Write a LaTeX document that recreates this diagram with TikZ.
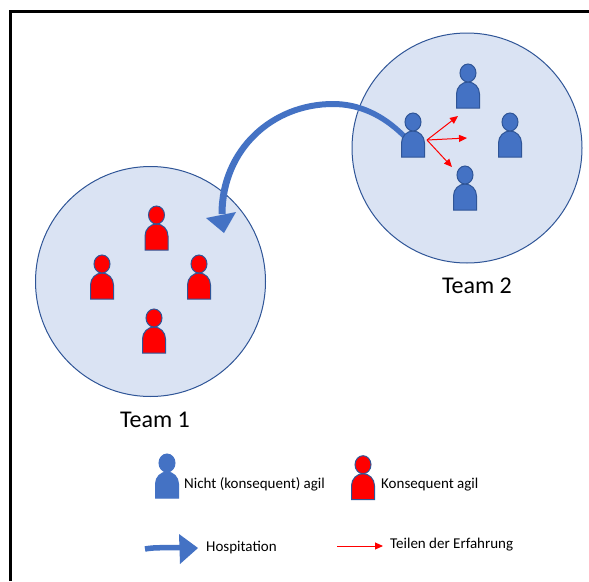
\documentclass[tikz,border=0pt]{standalone}
\usepackage{fontspec}
\setmainfont{Carlito}
\usetikzlibrary{arrows.meta}
\definecolor{fillblue}{HTML}{DAE3F3}
\definecolor{edgeblue}{HTML}{2F5597}
\definecolor{personblue}{HTML}{4472C4}
\tikzset{
  x=1pt,y=-1pt,
  team/.style={circle,draw=edgeblue,fill=fillblue,line width=1pt,minimum size=230pt,inner sep=0pt},
  teamlabel/.style={font=\fontsize{24}{26}\selectfont,text=black,inner sep=0pt},
  legendlabel/.style={font=\fontsize{15}{17}\selectfont,text=black,anchor=west,inner sep=0pt},
  redarrow/.style={draw=red,line width=1pt,-{Triangle[length=8pt,width=7pt]}},
  person/.pic={
    \path[pic actions,line width=1pt]
      (-11.5,0) -- (-11.5,-14) .. controls (-11.5,-21) and (-6,-26) .. (0,-26)
      .. controls (6,-26) and (11.5,-21) .. (11.5,-14) -- (11.5,0) -- cycle;
    \path[pic actions,line width=1pt] (0,-35) ellipse[x radius=8,y radius=9];
  },
  blueperson/.style={draw=edgeblue,fill=personblue},
  legendblue/.style={draw=personblue,fill=personblue},
  redperson/.style={draw=edgeblue,fill=red},
}
\begin{document}
\begin{tikzpicture}
\useasboundingbox (0,0) rectangle (589,581);
\fill[white] (0,0) rectangle (589,581);
\coordinate (fa) at (10.7,581);
\coordinate (fc) at (10.7,11.8);
\coordinate (fb) at (589,11.8);
\draw[black,line width=3pt] (fa) -- (fc) -- (fb);

\node[team] (team2) at (467,148) {};
\node[team] (team1) at (150.5,281.5) {};
\node[teamlabel] (t2label) at (477,285.5) {Team 2};
\node[teamlabel] (t1label) at (155,419.5) {Team 1};

% Hospitation arrow (behind the persons), slightly tapered
\coordinate (hs1) at (405.8,134.2);
\coordinate (hs2) at (402.2,137.8);
\coordinate (hp1) at (333,101);
\coordinate (hp2) at (333,107);
\coordinate (he1) at (218.5,214);
\coordinate (he2) at (225.5,214);
\fill[personblue] (hs1) .. controls (384,112) and (359,101) .. (hp1)
  .. controls (270,101) and (218.5,149) .. (he1) -- (he2)
  .. controls (225.5,151) and (274,107) .. (hp2)
  .. controls (357,107) and (380,116) .. (hs2) -- cycle;
\coordinate (h1) at (206,218);
\coordinate (h2) at (236,212);
\coordinate (h3) at (224,233);
\fill[personblue] (h1) -- (h2) -- (h3) -- cycle;

% Team 2
\pic[blueperson] at (468,108) {person};
\pic[blueperson] at (413,157) {person};
\pic[blueperson] at (510,157) {person};
\pic[blueperson] at (465,210) {person};
% Team 1
\pic[redperson] at (156.5,250) {person};
\pic[redperson] at (102,299) {person};
\pic[redperson] at (199,299) {person};
\pic[redperson] at (154,353) {person};

% Red arrows
\coordinate (src) at (427,140);
\coordinate (r1) at (458,116);
\coordinate (r2) at (467,138);
\coordinate (r3) at (452,167);
\draw[redarrow] (src) -- (r1);
\draw[redarrow] (src) -- (r2);
\draw[redarrow] (src) -- (r3);

% Legend
\begin{scope}[shift={(167,498)},xscale=0.83,yscale=0.89]
  \pic[legendblue] at (0,0) {person};
\end{scope}
\begin{scope}[shift={(363,499.7)},xscale=0.83,yscale=0.89]
  \pic[redperson] at (0,0) {person};
\end{scope}
\node[legendlabel] (l1) at (184,484.5) {Nicht (konsequent) agil};
\node[legendlabel] (l2) at (381,484.5) {Konsequent agil};

\coordinate (la) at (145,549);
\coordinate (lb) at (181,547.5);
\draw[personblue,line width=5.5pt] (la) .. controls (155,547) and (170,548) .. (lb);
\coordinate (lh1) at (179,534);
\coordinate (lh2) at (198,548);
\coordinate (lh3) at (180,564);
\fill[personblue] (lh1) -- (lh2) -- (lh3) -- cycle;
\node[legendlabel] (l3) at (206,548) {Hospitation};

\coordinate (ra) at (337,546);
\coordinate (rb) at (383,546);
\draw[redarrow] (ra) -- (rb);
\node[legendlabel] (l4) at (390,545) {Teilen der Erfahrung};
\end{tikzpicture}
\end{document}
